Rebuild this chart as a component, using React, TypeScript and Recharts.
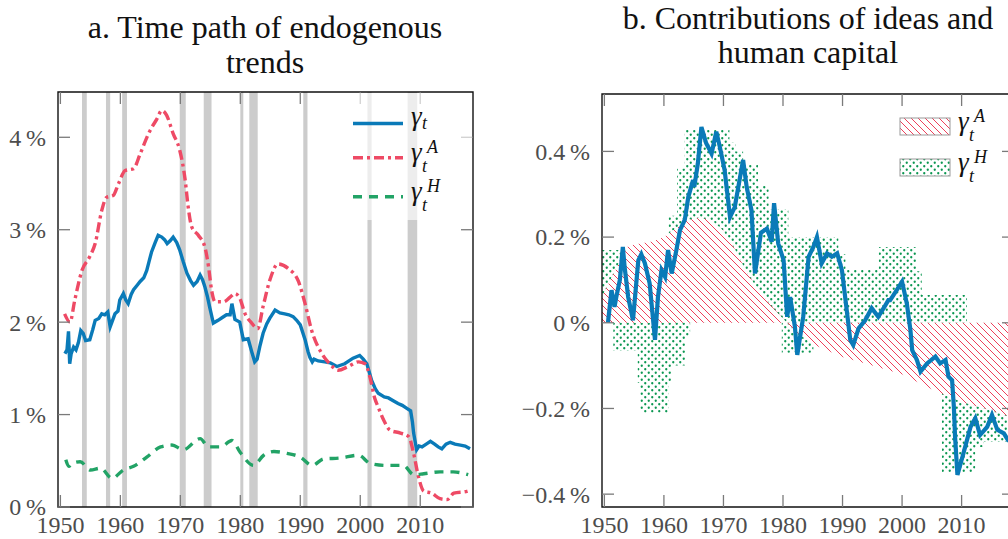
import React from "react";
import { Area, ComposedChart, Line, ReferenceArea, XAxis, YAxis } from "recharts";

const FONT = '"Liberation Serif", "DejaVu Serif", "Noto Serif", serif';
const TICK = "#7a7a7a";
const LABEL = "#4d4d4d";
const BLUE = "#0a7ab8";
const RED = "#ee4a65";
const GREEN = "#22a366";

const yearDomain = [1949.6, 2018.8];
const yearTicks = [1950, 1960, 1970, 1980, 1990, 2000, 2010];
const levelTicks = [0, 1, 2, 3, 4];
const contribTicks = [-0.4, -0.2, 0, 0.2, 0.4];

// NBER recessions (start, end)
const recessions = [
  [1953.6, 1954.4], [1957.6, 1958.3], [1960.3, 1961.1], [1969.9, 1970.9], [1973.9, 1975.2],
  [1980.0, 1980.5], [1981.5, 1982.9], [1990.5, 1991.2], [2001.2, 2001.9], [2007.9, 2009.5],
];

// panel a: gamma_t
const trendYears = [
  1950.75, 1951.1, 1951.35, 1951.55, 1951.8, 1952.2, 1952.6, 1953.0, 1953.4, 1953.8, 1954.2, 1954.9,
  1955.4, 1955.8, 1956.4, 1956.9, 1957.4, 1957.9, 1958.3, 1958.7, 1959.1, 1959.6, 1959.9, 1960.5,
  1960.9, 1961.3, 1961.8, 1962.2, 1962.8, 1963.3, 1963.9, 1964.4, 1964.8, 1965.2, 1965.8, 1966.3,
  1966.9, 1967.4, 1967.8, 1968.3, 1968.8, 1969.4, 1969.9, 1970.5, 1971.1, 1971.7, 1972.2, 1972.8,
  1973.3, 1973.7, 1974.1, 1974.5, 1974.9, 1975.5, 1976.3, 1977.0, 1977.7, 1978.3, 1978.6, 1979.1,
  1979.9, 1980.5, 1981.3, 1981.9, 1982.4, 1982.8, 1983.3, 1983.8, 1984.4, 1984.9, 1985.8, 1986.6,
  1987.4, 1988.1, 1988.8, 1989.4, 1990.0, 1990.8, 1991.3, 1991.6, 1992.0, 1992.3, 1993.0, 1994.1,
  1995.0, 1996.1, 1997.4, 1998.8, 1999.9, 2000.5, 2001.1, 2001.9, 2002.5, 2003.0, 2004.0, 2004.7,
  2005.5, 2006.3, 2007.0, 2007.7, 2008.4, 2008.7, 2008.9, 2009.4, 2009.8, 2010.3, 2011.0, 2011.7,
  2012.4, 2013.0, 2013.6, 2014.3, 2015.0, 2015.8, 2016.7, 2017.5, 2018.3,
];
const trendTotal = [
  1.66, 1.7, 1.9, 1.55, 1.66, 1.73, 1.7, 1.78, 1.91, 1.88, 1.8, 1.81,
  1.92, 2.02, 2.04, 2.09, 2.08, 2.11, 1.95, 2.02, 2.09, 2.12, 2.24, 2.31,
  2.24, 2.2, 2.3, 2.35, 2.4, 2.44, 2.48, 2.56, 2.66, 2.76, 2.86, 2.94,
  2.92, 2.89, 2.85, 2.88, 2.92, 2.86, 2.78, 2.65, 2.53, 2.45, 2.4, 2.44,
  2.51, 2.46, 2.38, 2.28, 2.16, 1.99, 2.02, 2.05, 2.08, 2.08, 2.2, 2.03,
  2.0, 1.81, 1.82, 1.68, 1.57, 1.6, 1.75, 1.88, 1.98, 2.04, 2.13, 2.1,
  2.09, 2.08, 2.06, 2.02, 1.97, 1.81, 1.68, 1.62, 1.57, 1.6, 1.58, 1.57,
  1.56, 1.52, 1.55, 1.61, 1.64, 1.6, 1.55, 1.37, 1.28, 1.23, 1.19, 1.18,
  1.15, 1.12, 1.1, 1.07, 1.04, 0.92, 0.8, 0.62, 0.66, 0.65, 0.68, 0.71,
  0.68, 0.65, 0.63, 0.68, 0.7, 0.68, 0.67, 0.66, 0.63,
];

// panel a: gamma_t^A
const ideasYears = [
  1950.7, 1951.6, 1952.4, 1953.6, 1954.9, 1955.8, 1956.9, 1957.7, 1958.8, 1959.7, 1960.8, 1962.2,
  1963.3, 1964.7, 1966.1, 1966.9, 1967.7, 1968.8, 1969.9, 1970.8, 1971.3, 1971.9, 1973.0, 1974.1,
  1974.7, 1975.2, 1975.8, 1977.2, 1978.3, 1979.1, 1979.9, 1980.8, 1981.9, 1982.9, 1983.8, 1984.9,
  1986.3, 1988.0, 1989.7, 1990.8, 1991.9, 1993.6, 1994.9, 1996.3, 1998.0, 1999.7, 2000.8, 2001.6,
  2002.4, 2003.0, 2003.9, 2005.0, 2006.7, 2008.1, 2008.9, 2009.7, 2010.6, 2011.9, 2013.3, 2014.5,
  2015.6, 2017.8, 2018.3,
];
const ideasTrend = [
  2.09, 2.0, 2.24, 2.56, 2.71, 2.85, 3.21, 3.35, 3.37, 3.5, 3.64, 3.66,
  3.82, 4.04, 4.2, 4.29, 4.24, 4.04, 3.86, 3.54, 3.25, 3.03, 2.94, 2.81,
  2.6, 2.35, 2.22, 2.22, 2.27, 2.31, 2.26, 2.09, 1.99, 1.93, 2.17, 2.45,
  2.63, 2.58, 2.44, 2.2, 1.91, 1.66, 1.55, 1.48, 1.52, 1.57, 1.55, 1.41,
  1.18, 1.08, 0.94, 0.83, 0.8, 0.76, 0.58, 0.33, 0.17, 0.15, 0.09, 0.08,
  0.15, 0.17, 0.18,
];

// panel a: gamma_t^H
const humanYears = [
  1950.9, 1951.4, 1951.9, 1953.3, 1955.0, 1956.7, 1958.6, 1960.5, 1962.2, 1964.4, 1966.7, 1968.6,
  1970.5, 1973.3, 1974.7, 1976.7, 1978.6, 1980.0, 1982.2, 1983.9, 1985.6, 1987.8, 1990.0, 1992.0,
  1993.9, 1996.7, 1999.7, 2001.7, 2004.4, 2007.2, 2008.9, 2010.6, 2013.3, 2015.5, 2018.0,
];
const humanTrend = [
  0.51, 0.44, 0.47, 0.49, 0.4, 0.42, 0.31, 0.4, 0.44, 0.54, 0.65, 0.67,
  0.62, 0.74, 0.65, 0.65, 0.72, 0.59, 0.45, 0.56, 0.6, 0.58, 0.54, 0.45,
  0.52, 0.53, 0.56, 0.47, 0.45, 0.45, 0.35, 0.36, 0.38, 0.38, 0.35,
];

// panel b: deviation of gamma_t
const devYears = [
  1950.6, 1951.2, 1951.7, 1952.0, 1952.6, 1953.1, 1953.4, 1954.0, 1954.8, 1955.7, 1956.2, 1956.8,
  1957.6, 1958.5, 1959.0, 1959.6, 1960.2, 1960.7, 1961.3, 1962.1, 1962.7, 1963.5, 1964.1, 1964.9,
  1965.1, 1965.7, 1966.3, 1967.1, 1968.0, 1968.8, 1969.4, 1970.2, 1971.1, 1971.9, 1973.3, 1973.9,
  1974.7, 1975.3, 1976.3, 1977.3, 1978.1, 1978.5, 1979.2, 1980.1, 1980.7, 1981.2, 1982.0, 1982.4,
  1983.4, 1984.3, 1985.1, 1985.7, 1986.5, 1987.4, 1988.2, 1989.1, 1989.9, 1990.7, 1991.3, 1991.8,
  1992.7, 1993.8, 1994.9, 1996.0, 1996.9, 1997.7, 1998.0, 1999.1, 2000.0, 2000.8, 2001.4, 2001.7,
  2002.5, 2003.1, 2004.2, 2005.6, 2006.4, 2007.3, 2007.8, 2008.4, 2008.7, 2008.9, 2009.3, 2010.3,
  2011.5, 2012.3, 2013.1, 2014.3, 2015.1, 2016.0, 2017.1, 2017.8, 2018.5,
];
const devTotal = [
  0.0, 0.076, 0.037, 0.06, 0.1, 0.177, 0.13, 0.06, 0.006, 0.146, 0.16, 0.139,
  0.092, -0.04, 0.06, 0.123, 0.107, 0.17, 0.115, 0.17, 0.216, 0.24, 0.294, 0.333,
  0.317, 0.372, 0.457, 0.419, 0.395, 0.446, 0.41, 0.356, 0.247, 0.27, 0.38, 0.317,
  0.263, 0.115, 0.21, 0.22, 0.189, 0.279, 0.185, 0.146, 0.014, 0.06, -0.009, -0.075,
  0.014, 0.154, 0.177, 0.2, 0.139, 0.162, 0.154, 0.162, 0.123, 0.03, -0.04, -0.052,
  -0.013, 0.006, 0.034, 0.014, 0.034, 0.053, 0.053, 0.076, 0.096, 0.045, -0.017, -0.064,
  -0.087, -0.114, -0.095, -0.079, -0.095, -0.087, -0.126, -0.134, -0.196, -0.266, -0.355, -0.305,
  -0.243, -0.223, -0.262, -0.243, -0.215, -0.25, -0.258, -0.274, -0.28,
];

// panel b: contribution of ideas (hatched)
const ideasShareYears = [
  1949.6, 1951, 1952.5, 1954, 1956, 1958, 1960, 1962, 1964, 1966, 1968, 1970, 1972, 1974, 1976,
  1978, 1980, 1982, 1985, 1990, 1995, 2000, 2005, 2010, 2015, 2018.8,
];
const ideasShare = [
  0.06, 0.1, 0.14, 0.18, 0.185, 0.19, 0.2, 0.22, 0.24, 0.245, 0.24, 0.215, 0.17, 0.115, 0.075,
  0.04, 0.01, -0.02, -0.05, -0.08, -0.1, -0.12, -0.155, -0.185, -0.205, -0.222,
];

// panel b: contribution of human capital (dotted), outer band edges per step
const humanShareYears = [
  1949.6, 1951.5, 1955.1, 1955.6, 1956.0, 1960.8, 1961.3, 1962.2, 1963.5, 1963.7, 1964.4, 1971.0,
  1972.0, 1973.3, 1975.8, 1977.6, 1979.8, 1980.9, 1985.1, 1989.3, 1989.6, 1990.5, 1992.4, 1996.1,
  2002.5, 2003.3, 2006.7, 2010.9, 2012.3, 2013.7, 2018.8,
];
const humanShareLow = [
  0, -0.065, -0.065, -0.14, -0.21, -0.14, -0.1, -0.1, -0.1, -0.03, 0, 0,
  0, 0, 0, 0, -0.07, -0.07, 0, 0, -0.05, -0.05, 0, 0,
  0, 0, -0.35, -0.35, -0.29, -0.278, -0.278,
];
const humanShareHigh = [
  0.17, 0.17, 0, 0, 0, 0.25, 0.25, 0.36, 0.45, 0.45, 0.45, 0.42,
  0.4, 0.37, 0.32, 0.265, 0.265, 0.2, 0.2, 0.16, 0.16, 0.125, 0.125, 0.177,
  0.12, 0.065, 0.065, 0, 0, 0, 0,
];

const pairs = (xs: number[], ys: number[]) => xs.map((x, i) => ({ x, y: ys[i] }));
const trendData = pairs(trendYears, trendTotal);
const ideasData = pairs(ideasYears, ideasTrend);
const humanData = pairs(humanYears, humanTrend);
const devData = pairs(devYears, devTotal);
const ideasShareData = pairs(ideasShareYears, ideasShare);
const humanShareData = humanShareYears.map((x, i) => ({ x, band: [humanShareLow[i], humanShareHigh[i]] }));

const pct = (v: number) => `${v}\u2009%`;
const pct1 = (v: number) => (v === 0 ? "0\u2009%" : `${v < 0 ? "\u2212" : ""}${Math.abs(v).toFixed(1)}\u2009%`);

function makeXTick(plotH: number) {
  return (p: any) => {
    const { x, y, payload } = p;
    return (
      <g>
        <line x1={x} x2={x} y1={y} y2={y - 12} stroke={TICK} strokeWidth={1.3} />
        <line x1={x} x2={x} y1={y - plotH} y2={y - plotH + 12} stroke={TICK} strokeWidth={1.3} />
        <text x={x} y={y + 26} textAnchor="middle" fill={LABEL} fontSize={24} style={{ fontFamily: FONT }}>
          {payload.value}
        </text>
      </g>
    );
  };
}

function makeYTick(plotW: number, fmt: (v: number) => string) {
  return (p: any) => {
    const { x, y, payload } = p;
    return (
      <g>
        <line x1={x} x2={x + 12} y1={y} y2={y} stroke={TICK} strokeWidth={1.3} />
        <line x1={x + plotW} x2={x + plotW - 12} y1={y} y2={y} stroke={TICK} strokeWidth={1.3} />
        <text x={x - 12} y={y} dy="0.35em" textAnchor="end" fill={LABEL} fontSize={24} style={{ fontFamily: FONT }}>
          {fmt(payload.value)}
        </text>
      </g>
    );
  };
}

// gamma with subscript t and optional superscript; top-left anchored
function Gamma({ sup }: { sup?: string }) {
  const base = { position: "absolute" as const, lineHeight: 1, whiteSpace: "nowrap" as const };
  return (
    <span style={{ position: "relative", display: "block", fontStyle: "italic", width: 40, height: 38 }}>
      <span style={{ ...base, left: 0, top: 0, fontSize: 27 }}>γ</span>
      {sup && <span style={{ ...base, left: 16, top: -1.5, fontSize: 18 }}>{sup}</span>}
      <span style={{ ...base, left: 11, top: sup ? 17.5 : 11.5, fontSize: 18 }}>t</span>
    </span>
  );
}

function LeftKey() {
  const rows = [
    { color: BLUE, dash: undefined, sup: undefined, y: 30.5 },
    { color: RED, dash: "10 4 3 4", sup: "A", y: 64.7 },
    { color: GREEN, dash: "9 7", sup: "H", y: 103.7 },
  ];
  return (
    <div style={{ position: "absolute", left: 345, top: 93, width: 127, height: 127, background: "rgba(255,255,255,0.65)" }}>
      <svg width={127} height={127} style={{ position: "absolute", left: 0, top: 0 }}>
        {rows.map((r, i) => (
          <line key={i} x1={8} x2={58} y1={r.y} y2={r.y} stroke={r.color} strokeWidth={3.4} strokeDasharray={r.dash} />
        ))}
      </svg>
      {rows.map((r, i) => (
        <div key={i} style={{ position: "absolute", left: 66, top: r.y - (r.sup ? 18.3 : 20.6) }}>
          <Gamma sup={r.sup} />
        </div>
      ))}
    </div>
  );
}

function RightKey() {
  return (
    <div style={{ position: "absolute", left: 898, top: 112, width: 110, height: 72 }}>
      <svg width={56} height={72} style={{ position: "absolute", left: 0, top: 0 }}>
        <rect x={2} y={6} width={50} height={17} fill="url(#hatchA)" stroke="#999" strokeWidth={1} />
        <rect x={2} y={47} width={50} height={17} fill="url(#dotsH)" stroke="#999" strokeWidth={1} />
      </svg>
      <div style={{ position: "absolute", left: 60, top: -3.8 }}>
        <Gamma sup="A" />
      </div>
      <div style={{ position: "absolute", left: 60, top: 37.2 }}>
        <Gamma sup="H" />
      </div>
    </div>
  );
}

export default function App() {
  const leftPlotW = 415;
  const leftPlotH = 415;
  const rightPlotW = 412;
  const rightPlotH = 413;
  return (
    <div
      style={{
        position: "absolute", left: 0, top: 0, width: 1008, height: 539, overflow: "hidden",
        background: "#fff", fontFamily: FONT, color: "#111",
      }}
    >
      <svg width={0} height={0} style={{ position: "absolute" }}>
        <defs>
          <pattern id="hatchA" patternUnits="userSpaceOnUse" width={7} height={7}>
            <rect width={7} height={7} fill="#fff" />
            <path d="M-1,-1 L8,8 M-1,6 L1,8 M6,-1 L8,1" stroke="#ec2a48" strokeWidth={0.9} />
          </pattern>
          <pattern id="dotsH" patternUnits="userSpaceOnUse" width={7} height={7}>
            <circle cx={1.75} cy={1.75} r={1.15} fill="#0a9650" />
            <circle cx={5.25} cy={5.25} r={1.15} fill="#0a9650" />
          </pattern>
        </defs>
      </svg>

      <div style={{ position: "absolute", left: 65, top: 10, width: 400, textAlign: "center", fontSize: 32, lineHeight: "35px" }}>
        a. Time path of endogenous
        <br />
        trends
      </div>
      <div style={{ position: "absolute", left: 588, top: 1, width: 440, textAlign: "center", fontSize: 32, lineHeight: "34px" }}>
        b. Contributions of ideas and
        <br />
        human capital
      </div>

      <div style={{ position: "absolute", left: 0, top: 0 }}>
        <ComposedChart width={480} height={539} margin={{ top: 92, right: 7, bottom: 0, left: 0 }}>
          <XAxis
            type="number" dataKey="x" domain={yearDomain} ticks={yearTicks} interval={0} allowDataOverflow
            height={32} axisLine={false} tickLine={false} tickSize={0} tickMargin={0} tick={makeXTick(leftPlotH)}
          />
          <YAxis
            type="number" domain={[0, 4.49]} ticks={levelTicks} interval={0} allowDataOverflow
            width={58} axisLine={false} tickLine={false} tickSize={0} tickMargin={0} tick={makeYTick(leftPlotW, pct)}
          />
          {recessions.map(([a, b], i) => (
            <ReferenceArea key={i} x1={a} x2={b} fill="#cccccc" fillOpacity={1} stroke="none" />
          ))}
          <Line data={trendData} dataKey="y" type="linear" stroke={BLUE} strokeWidth={3.4} dot={false} activeDot={false} isAnimationActive={false} />
          <Line data={ideasData} dataKey="y" type="monotone" stroke={RED} strokeWidth={3.4} strokeDasharray="10 4 3 4" dot={false} activeDot={false} isAnimationActive={false} />
          <Line data={humanData} dataKey="y" type="monotone" stroke={GREEN} strokeWidth={3.4} strokeDasharray="9 7" dot={false} activeDot={false} isAnimationActive={false} />
          <ReferenceArea x1={yearDomain[0]} x2={yearDomain[1]} y1={0} y2={4.49} fill="none" stroke="#111" strokeWidth={1.4} />
        </ComposedChart>
      </div>

      <div style={{ position: "absolute", left: 500, top: 0 }}>
        <ComposedChart width={520} height={539} margin={{ top: 94, right: 6, bottom: 0, left: 0 }}>
          <XAxis
            type="number" dataKey="x" domain={yearDomain} ticks={yearTicks} interval={0} allowDataOverflow
            height={32} axisLine={false} tickLine={false} tickSize={0} tickMargin={0} tick={makeXTick(rightPlotH)}
          />
          <YAxis
            type="number" domain={[-0.43, 0.534]} ticks={contribTicks} interval={0} allowDataOverflow
            width={102} axisLine={false} tickLine={false} tickSize={0} tickMargin={0} tick={makeYTick(rightPlotW, pct1)}
          />
          <Area data={humanShareData} dataKey="band" type="stepAfter" fill="url(#dotsH)" fillOpacity={1} stroke="none" dot={false} activeDot={false} isAnimationActive={false} />
          <Area data={ideasShareData} dataKey="y" type="linear" baseValue={0} fill="url(#hatchA)" fillOpacity={1} stroke="none" dot={false} activeDot={false} isAnimationActive={false} />
          <Line data={devData} dataKey="y" type="linear" stroke={BLUE} strokeWidth={4.2} dot={false} activeDot={false} isAnimationActive={false} />
          <ReferenceArea x1={yearDomain[0]} x2={yearDomain[1]} y1={-0.43} y2={0.534} fill="none" stroke="#111" strokeWidth={1.4} />
        </ComposedChart>
      </div>

      <LeftKey />
      <RightKey />
    </div>
  );
}
